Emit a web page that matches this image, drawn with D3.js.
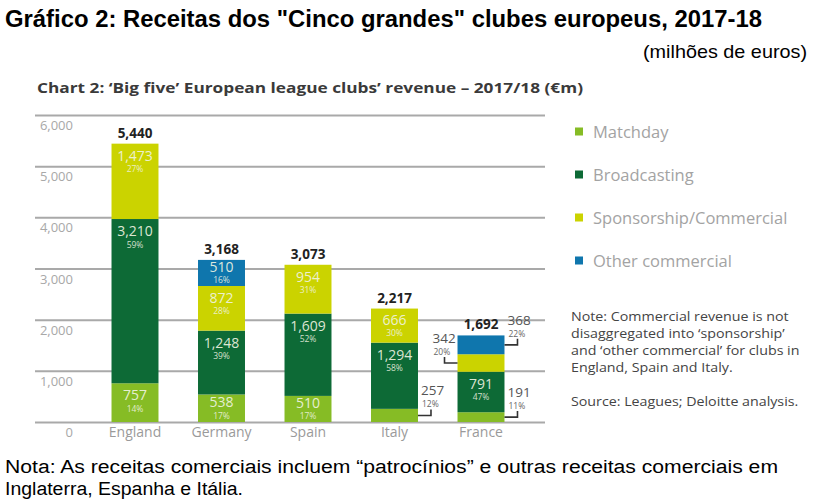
<!DOCTYPE html>
<html>
<head>
<meta charset="utf-8">
<script src="https://cdn.jsdelivr.net/npm/d3@7"></script>
<style>
  html, body { margin: 0; padding: 0; background: #ffffff; }
  svg { display: block; }
</style>
</head>
<body>
<svg id="chart" width="817" height="504"></svg>
<script>
// ---------------- DATA ----------------
const categories = ["England", "Germany", "Spain", "Italy", "France"];
const matchday       = [757, 538, 510, 257, 191];
const broadcasting   = [3210, 1248, 1609, 1294, 791];
const sponsorship    = [1473, 872, 954, 666, 342];
const otherCommercial = [0, 510, 0, 0, 368];
const totals         = [5440, 3168, 3073, 2217, 1692];
const matchdayPct     = [14, 17, 17, 12, 11];
const broadcastingPct = [59, 39, 52, 58, 47];
const sponsorshipPct  = [27, 28, 31, 30, 20];
const otherPct        = [null, 16, null, null, 22];
const seriesNames = ["Matchday", "Broadcasting", "Sponsorship/Commercial", "Other commercial"];
const yTicks = [0, 1000, 2000, 3000, 4000, 5000, 6000];

// ---------------- SETUP ----------------
const svg = d3.select("#chart");
const colors = ["#86bc25", "#0d6a36", "#cbd300", "#0f76ad"];
const seriesKeys = ["matchday", "broadcasting", "sponsorship", "other"];
const pcts = { matchday: matchdayPct, broadcasting: broadcastingPct, sponsorship: sponsorshipPct, other: otherPct };
const rows = categories.map((c, i) => ({
  category: c, total: totals[i],
  matchday: matchday[i], broadcasting: broadcasting[i],
  sponsorship: sponsorship[i], other: otherCommercial[i]
}));

const y = d3.scaleLinear().domain([0, 6000]).range([422, 115]);
const x = d3.scaleBand().domain(categories).range([91.75, 524.25])
  .paddingInner(0.457).paddingOuter(0.2285);
const color = d3.scaleOrdinal().domain(seriesKeys).range(colors);

const chartFont = "'Open Sans', 'Noto Sans', sans-serif";
const headFont = "'Liberation Sans', Arial, sans-serif";

// ---------------- HEADINGS ----------------
svg.append("text").attr("x", 5).attr("y", 27)
  .attr("font-family", headFont).attr("font-weight", "bold").attr("font-size", 23)
  .attr("fill", "#000")
  .attr("textLength", 757).attr("lengthAdjust", "spacingAndGlyphs")
  .text("Gráfico 2: Receitas dos \"Cinco grandes\" clubes europeus, 2017-18");

svg.append("text").attr("x", 643).attr("y", 58)
  .attr("font-family", headFont).attr("font-size", 19).attr("fill", "#000")
  .attr("textLength", 164).attr("lengthAdjust", "spacingAndGlyphs")
  .text("(milhões de euros)");

svg.append("text").attr("x", 37).attr("y", 93)
  .attr("font-family", chartFont).attr("font-weight", "bold").attr("font-size", 14.5)
  .attr("fill", "#3a3a3a")
  .attr("textLength", 546).attr("lengthAdjust", "spacingAndGlyphs")
  .text("Chart 2: \u2018Big five\u2019 European league clubs\u2019 revenue \u2013 2017/18 (\u20acm)");

// ---------------- AXIS / GRID ----------------
const axis = d3.axisLeft(y).tickValues(yTicks).tickSize(510).tickFormat(d3.format(","));
const gAxis = svg.append("g").attr("transform", "translate(545,0)").call(axis);
gAxis.select(".domain").remove();
gAxis.selectAll(".tick line").attr("stroke", "#a9a9a9").attr("stroke-width", 2);
gAxis.selectAll(".tick text")
  .attr("x", 73 - 545).attr("dy", 14.5)
  .attr("font-family", chartFont).attr("font-size", 13).attr("fill", "#a8a8a8");

// category labels
const xAxis = d3.axisBottom(x).tickSize(0).tickPadding(0);
const gX = svg.append("g").attr("transform", "translate(0,424)").call(xAxis);
gX.select(".domain").remove();
gX.selectAll(".tick text").attr("dy", 13)
  .attr("font-family", chartFont).attr("font-size", 14).attr("fill", "#9a9a9a");

// ---------------- BARS ----------------
const stacked = d3.stack().keys(seriesKeys)(rows);

const layers = svg.append("g").selectAll("g").data(stacked).join("g")
  .attr("fill", d => color(d.key));
layers.selectAll("rect").data(d => d.map(v => ({ key: d.key, v }))).join("rect")
  .filter(d => d.v[1] - d.v[0] > 0)
  .attr("x", d => x(d.v.data.category))
  .attr("y", d => y(d.v[1]))
  .attr("width", x.bandwidth())
  .attr("height", d => y(d.v[0]) - y(d.v[1]));

// ---------------- SEGMENT LABELS ----------------
const fmt = d3.format(",");
const labelG = svg.append("g").attr("font-family", chartFont);
// segments too thin for an inside label get an outside label (side: -1 left, 1 right)
const outside = { "Italy|matchday": 1, "France|matchday": 1, "France|sponsorship": -1, "France|other": 1 };

stacked.forEach(layer => {
  layer.forEach((v, i) => {
    const val = v[1] - v[0];
    if (val <= 0) return;
    const cat = v.data.category;
    const top = y(v[1]), bot = y(v[0]);
    const h = bot - top;
    const cx = x(cat) + x.bandwidth() / 2;
    const pct = pcts[layer.key][i];
    const side = outside[cat + "|" + layer.key];
    if (side === undefined) {
      const off = Math.min(17, (h - 24) / 2 + 11);
      labelG.append("text").attr("x", cx).attr("y", top + off).attr("text-anchor", "middle")
        .attr("font-size", 14).attr("fill", "#f1f4e2").attr("fill-opacity", 0.92).text(fmt(val));
      labelG.append("text").attr("x", cx).attr("y", top + off + 11.5).attr("text-anchor", "middle")
        .attr("font-size", 8.5).attr("fill", "#f1f4e2").attr("fill-opacity", 0.88).text(pct + "%");
    } else {
      const cy = (top + bot) / 2;
      const edge = side > 0 ? x(cat) + x.bandwidth() : x(cat);
      const tickX = edge + side * 13;
      labelG.append("path")
        .attr("d", `M${edge},${cy}H${tickX}V${cy - 6}`)
        .attr("fill", "none").attr("stroke", "#333").attr("stroke-width", 1.6);
      const tx = side > 0 ? edge + 3 : edge - 25;
      labelG.append("text").attr("x", tx).attr("y", cy - 20)
        .attr("font-size", 13.5).attr("fill", "#555").text(fmt(val));
      labelG.append("text").attr("x", tx + 1).attr("y", cy - 8)
        .attr("font-size", 8.5).attr("fill", "#666").text(pct + "%");
    }
  });
});

// totals
svg.append("g").selectAll("text").data(rows).join("text")
  .attr("x", d => x(d.category) + x.bandwidth() / 2)
  .attr("y", d => y(d.total) - 6)
  .attr("text-anchor", "middle")
  .attr("font-family", chartFont).attr("font-weight", "bold").attr("font-size", 13.5)
  .attr("fill", "#222")
  .text(d => fmt(d.total));

// ---------------- LEGEND ----------------
const legY = [132, 175, 218, 261];
const leg = svg.append("g").selectAll("g").data(seriesNames).join("g")
  .attr("transform", (d, i) => `translate(575,${legY[i]})`);
leg.append("rect").attr("x", 0).attr("y", -4.5).attr("width", 8).attr("height", 8)
  .attr("fill", (d, i) => colors[i]);
leg.append("text").attr("x", 18).attr("y", 5.5)
  .attr("font-family", chartFont).attr("font-size", 16.5).attr("fill", "#a3a3a3")
  .text(d => d);

// ---------------- NOTES ----------------
const noteLines = [
  "Note: Commercial revenue is not",
  "disaggregated into \u2018sponsorship\u2019",
  "and \u2018other commercial\u2019 for clubs in",
  "England, Spain and Italy."
];
const noteG = svg.append("g").attr("transform", "translate(571,0) scale(1.08,1)")
  .attr("font-family", chartFont).attr("font-size", 13.2).attr("fill", "#444");
noteG.selectAll("text").data(noteLines).join("text")
  .attr("x", 0).attr("y", (d, i) => 321 + i * 17).text(d => d);
noteG.append("text").attr("x", 0).attr("y", 406).text("Source: Leagues; Deloitte analysis.");

svg.append("text").attr("x", 5).attr("y", 473)
  .attr("font-family", headFont).attr("font-size", 18).attr("fill", "#000")
  .attr("textLength", 773).attr("lengthAdjust", "spacingAndGlyphs")
  .text("Nota: As receitas comerciais incluem \u201cpatroc\u00ednios\u201d e outras receitas comerciais  em");
svg.append("text").attr("x", 5).attr("y", 495)
  .attr("font-family", headFont).attr("font-size", 18).attr("fill", "#000")
  .attr("textLength", 238).attr("lengthAdjust", "spacingAndGlyphs")
  .text("Inglaterra, Espanha e It\u00e1lia.");
</script>
</body>
</html>
